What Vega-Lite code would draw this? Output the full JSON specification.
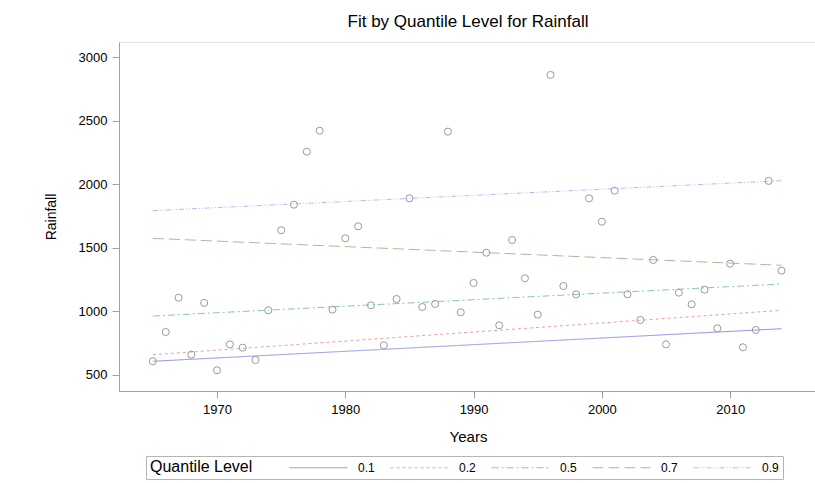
{
  "$schema": "https://vega.github.io/schema/vega-lite/v6.json",
  "autosize": "none",
  "width": 698,
  "height": 349,
  "padding": {"left": 119, "top": 42, "right": 0, "bottom": 92},
  "background": "white",
  "title": {"text": "Fit by Quantile Level for Rainfall", "frame": "group", "anchor": "middle", "offset": 11, "fontSize": 17, "font": "Liberation Sans", "fontWeight": "normal", "color": "black"},
  "config": {
    "view": {"stroke": "#e4e4e4", "strokeWidth": 1},
    "axis": {"labelFont": "Liberation Sans", "titleFont": "Liberation Sans", "labelFontSize": 13, "titleFontSize": 15, "titleFontWeight": "normal", "labelColor": "black", "titleColor": "black", "domainColor": "#a0a0a0", "tickColor": "#a0a0a0", "tickSize": 7, "labelPadding": 5, "grid": false}
  },
  "datasets": {
    "obs": [
      {"year": 1965, "rain": 608}, {"year": 1966, "rain": 838}, {"year": 1967, "rain": 1108}, {"year": 1968, "rain": 660}, {"year": 1969, "rain": 1067},
      {"year": 1970, "rain": 537}, {"year": 1971, "rain": 741}, {"year": 1972, "rain": 715}, {"year": 1973, "rain": 618}, {"year": 1974, "rain": 1009},
      {"year": 1975, "rain": 1639}, {"year": 1976, "rain": 1840}, {"year": 1977, "rain": 2257}, {"year": 1978, "rain": 2422}, {"year": 1979, "rain": 1014},
      {"year": 1980, "rain": 1575}, {"year": 1981, "rain": 1670}, {"year": 1982, "rain": 1048}, {"year": 1983, "rain": 734}, {"year": 1984, "rain": 1098},
      {"year": 1985, "rain": 1890}, {"year": 1986, "rain": 1035}, {"year": 1987, "rain": 1059}, {"year": 1988, "rain": 2415}, {"year": 1989, "rain": 993},
      {"year": 1990, "rain": 1224}, {"year": 1991, "rain": 1462}, {"year": 1992, "rain": 891}, {"year": 1993, "rain": 1562}, {"year": 1994, "rain": 1261},
      {"year": 1995, "rain": 975}, {"year": 1996, "rain": 2861}, {"year": 1997, "rain": 1200}, {"year": 1998, "rain": 1135}, {"year": 1999, "rain": 1890},
      {"year": 2000, "rain": 1706}, {"year": 2001, "rain": 1950}, {"year": 2002, "rain": 1135}, {"year": 2003, "rain": 933}, {"year": 2004, "rain": 1405},
      {"year": 2005, "rain": 741}, {"year": 2006, "rain": 1148}, {"year": 2007, "rain": 1056}, {"year": 2008, "rain": 1171}, {"year": 2009, "rain": 867},
      {"year": 2010, "rain": 1376}, {"year": 2011, "rain": 718}, {"year": 2012, "rain": 854}, {"year": 2013, "rain": 2027}, {"year": 2014, "rain": 1321}
    ],
    "fits": [
      {"q": "0.1", "year": 1965, "fit": 608}, {"q": "0.1", "year": 2014, "fit": 864},
      {"q": "0.2", "year": 1965, "fit": 660}, {"q": "0.2", "year": 2014, "fit": 1009},
      {"q": "0.5", "year": 1965, "fit": 964}, {"q": "0.5", "year": 2014, "fit": 1216},
      {"q": "0.7", "year": 1965, "fit": 1575}, {"q": "0.7", "year": 2014, "fit": 1363},
      {"q": "0.9", "year": 1965, "fit": 1793}, {"q": "0.9", "year": 2014, "fit": 2029}
    ]
  },
  "layer": [
    {
      "data": {"name": "fits"},
      "mark": {"type": "line", "strokeWidth": 1},
      "encoding": {
        "x": {"field": "year", "type": "quantitative", "scale": {"domain": [1962.36, 2016.77], "nice": false, "zero": false}, "axis": {"title": "Years", "values": [1970, 1980, 1990, 2000, 2010], "format": "d", "titlePadding": 13}},
        "y": {"field": "fit", "type": "quantitative", "scale": {"domain": [374, 3120], "nice": false, "zero": false}, "axis": {"title": "Rainfall", "values": [500, 1000, 1500, 2000, 2500, 3000], "format": "d", "titleFontSize": 14, "titlePadding": 20}},
        "color": {"field": "q", "type": "nominal", "scale": {"domain": ["0.1", "0.2", "0.5", "0.7", "0.9"], "range": ["#8f8fec", "#e8a0a8", "#8cc4bc", "#c4ae98", "#d4aef0"]},
          "legend": {"title": "Quantile Level", "orient": "none", "legendX": 27, "legendY": 414, "direction": "horizontal", "columns": 5,
            "titleOrient": "left", "titleFont": "Liberation Sans", "titleFontSize": 16, "titleFontWeight": "normal", "titleColor": "black", "titlePadding": 58,
            "labelFont": "Liberation Sans", "labelFontSize": 12, "labelColor": "black", "labelOffset": 32,
            "symbolType": "M-4.14,0H4.14", "symbolSize": 196, "symbolStrokeWidth": 1, "columnPadding": 13,
            "strokeColor": "#b4b4b4", "fillColor": "white", "padding": 4}},
        "strokeDash": {"field": "q", "type": "nominal", "scale": {"domain": ["0.1", "0.2", "0.5", "0.7", "0.9"], "range": [[1, 0], [3, 3], [7, 3, 2, 3], [11, 5], [5, 2, 1, 2, 1, 2]]},
          "legend": {"title": "Quantile Level", "orient": "none", "legendX": 27, "legendY": 414, "direction": "horizontal", "columns": 5,
            "titleOrient": "left", "titleFont": "Liberation Sans", "titleFontSize": 16, "titleFontWeight": "normal", "titleColor": "black", "titlePadding": 58,
            "labelFont": "Liberation Sans", "labelFontSize": 12, "labelColor": "black", "labelOffset": 32,
            "symbolType": "M-4.14,0H4.14", "symbolSize": 196, "symbolStrokeWidth": 1, "columnPadding": 13,
            "strokeColor": "#b4b4b4", "fillColor": "white", "padding": 4}},
        "detail": {"field": "q"}
      }
    },
    {
      "data": {"name": "obs"},
      "mark": {"type": "point", "shape": "circle", "filled": false, "size": 50, "strokeWidth": 1, "color": "#9a9a9a", "opacity": 1},
      "encoding": {
        "x": {"field": "year", "type": "quantitative"},
        "y": {"field": "rain", "type": "quantitative"}
      }
    }
  ]
}
